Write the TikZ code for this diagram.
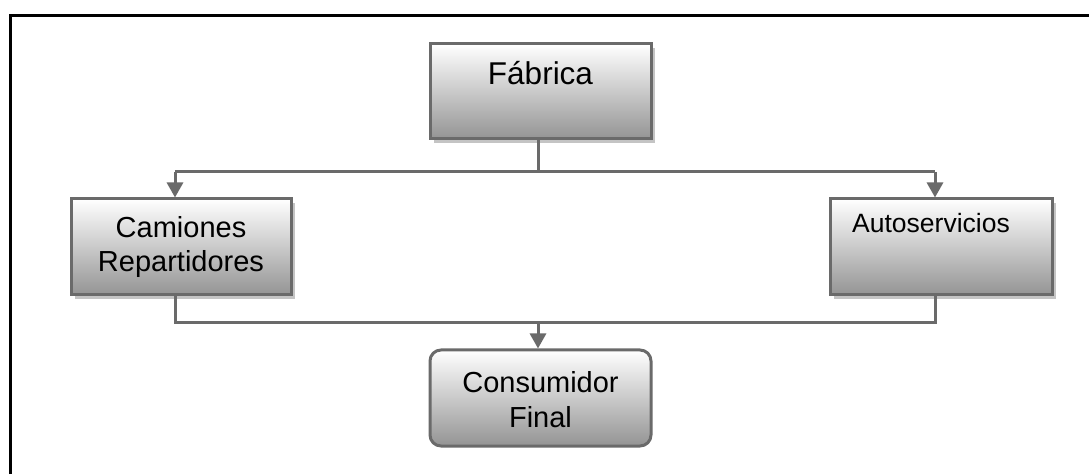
\documentclass[tikz,border=0pt]{standalone}
\usepackage{fontspec}
\setmainfont{Liberation Sans}
\usetikzlibrary{shadows,arrows.meta}
\definecolor{edgegray}{HTML}{6A6A6A}
\definecolor{shadowgray}{HTML}{C4C4C4}
\tikzset{
  boxbase/.style={draw=edgegray, line width=3pt, inner sep=0pt,
    top color=white, middle color=white!93!black, bottom color=black!42,
    general shadow={shadow xshift=4pt, shadow yshift=-4pt, fill=shadowgray}},
  sqbox/.style={boxbase, rectangle},
  rndbox/.style={draw=edgegray, line width=3pt, inner sep=0pt, rectangle, rounded corners=11pt,
    top color=white, middle color=white!93!black, bottom color=black!42},
  conn/.style={draw=edgegray, line width=3pt},
  arr/.style={conn, -{Triangle[length=15pt,width=16pt]}},
  lbl/.style={inner sep=0pt, align=center}
}
\begin{document}
\begin{tikzpicture}[x=1pt,y=1pt]
\useasboundingbox (0,0) rectangle (1089,474);
% outer frame (top and left edges)
\draw[line width=3pt, black] (10.5,0) -- (10.5,458.5) -- (1089,458.5);

% boxes
\node[sqbox, minimum width=221pt, minimum height=95pt] (fab) at (540.5,382.5) {};
\node[sqbox, minimum width=220pt, minimum height=96pt] (cam) at (181,227) {};
\node[sqbox, minimum width=222pt, minimum height=96pt] (aut) at (941,227) {};
\node[rndbox, minimum width=221pt, minimum height=96pt] (con) at (540.5,76) {};

% labels
\node[lbl, anchor=base, font=\fontsize{31.5}{36}\selectfont] (fabT) at (540.5,389) {Fábrica};
\node[lbl, anchor=base, font=\fontsize{29}{34}\selectfont] (camT) at (181,202) {Camiones\\Repartidores};
\node[lbl, anchor=base west, font=\fontsize{26.5}{32}\selectfont] (autT) at (852,241) {Autoservicios};
\node[lbl, anchor=base, font=\fontsize{29}{35}\selectfont] (conT) at (540.5,47) {Consumidor\\Final};

% connectors top
\coordinate (jc) at (538,302);
\coordinate (jl) at (175,302);
\coordinate (jr) at (935,302);
\draw[conn] (fab.south -| jc) -- (jc);
\draw[conn] (jl) -- (jr);
\draw[arr] (jl) -- (jl |- cam.north);
\draw[arr] (jr) -- (jr |- aut.north);

% connectors bottom
\coordinate (kc) at (538,151);
\coordinate (kl) at (175,151);
\coordinate (kr) at (935,151);
\draw[conn] (cam.south -| kl) -- (kl) -- (kr) -- (aut.south -| kr);
\draw[arr] (kc) -- (kc |- con.north);
\end{tikzpicture}
\end{document}
